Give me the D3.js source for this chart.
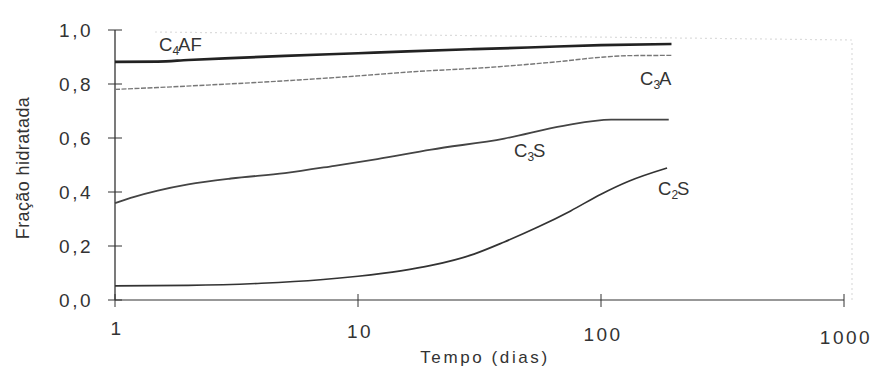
<!DOCTYPE html>
<html>
<head>
<meta charset="utf-8">
<script src="https://cdn.jsdelivr.net/npm/d3@7"></script>
<style>
  html, body { margin: 0; padding: 0; background: #fff; }
  svg { display: block; }
  text { font-family: "Liberation Sans", Arial, sans-serif; fill: #333; }
</style>
</head>
<body>
<svg id="chart" width="874" height="376"></svg>
<script>
// ---- data ----
const days_C4AF = [1, 1.5, 2, 3, 5, 10, 16, 30, 50, 100, 195];
const vals_C4AF = [0.882, 0.883, 0.889, 0.896, 0.904, 0.914, 0.921, 0.929, 0.935, 0.944, 0.948];

const days_C3A = [1, 1.5, 2.4, 5.7, 10, 16, 38, 67, 100, 130, 195];
const vals_C3A = [0.780, 0.787, 0.796, 0.815, 0.830, 0.844, 0.864, 0.883, 0.899, 0.905, 0.906];

const days_C3S = [1, 1.2, 1.5, 2, 3, 5, 8, 12, 20, 40, 70, 110, 190];
const vals_C3S = [0.359, 0.382, 0.405, 0.428, 0.450, 0.470, 0.497, 0.522, 0.557, 0.598, 0.645, 0.668, 0.668];

const days_C2S = [1, 2, 4, 7, 10, 15, 20, 30, 40, 55, 75, 100, 130, 187];
const vals_C2S = [0.052, 0.054, 0.062, 0.075, 0.088, 0.108, 0.128, 0.170, 0.215, 0.270, 0.330, 0.392, 0.440, 0.489];

const xTicks = [1, 10, 100, 1000];
const yTicks = [0, 0.2, 0.4, 0.6, 0.8, 1.0];

const seriesNames = ["C4AF", "C3A", "C3S", "C2S"];
// ---------------------------------------

const svg = d3.select("#chart");
const x = d3.scaleLog().domain([1, 1000]).range([115, 844]);
const y = d3.scaleLinear().domain([0, 1]).range([300, 30]);
const fmt = d => d3.format(".1f")(d).replace(".", ",");

// faint dotted frame (top/right)
svg.append("path")
  .attr("d", `M${x(1)+40},${y(1)+2} L${x(1000)+8},${y(1)+10} L${x(1000)+8},${y(0)}`)
  .attr("fill", "none").attr("stroke", "#dcdcdc").attr("stroke-width", 1.2)
  .attr("stroke-dasharray", "2,3");

// y axis
const yAxis = svg.append("g").attr("transform", `translate(${x(1)},0)`);
yAxis.append("line").attr("y1", y(1)).attr("y2", y(0)).attr("stroke", "#333").attr("stroke-width", 1.3);
yAxis.selectAll("line.tick").data(yTicks).join("line")
  .attr("class", "tick").attr("x1", -7).attr("x2", 7)
  .attr("y1", d => y(d)).attr("y2", d => y(d)).attr("stroke", "#333").attr("stroke-width", 1);
yAxis.selectAll("text").data(yTicks).join("text")
  .attr("x", -22).attr("y", d => y(d) + 7)
  .attr("text-anchor", "end").attr("font-size", 19).attr("letter-spacing", 2.5)
  .text(fmt);

// x axis
const xAxis = svg.append("g").attr("transform", `translate(0,${y(0)})`);
xAxis.append("line").attr("x1", x(1)).attr("x2", x(1000)).attr("stroke", "#333").attr("stroke-width", 1.2);
xAxis.selectAll("line.tick").data(xTicks).join("line")
  .attr("class", "tick").attr("x1", d => x(d)).attr("x2", d => x(d))
  .attr("y1", -6).attr("y2", 7).attr("stroke", "#333").attr("stroke-width", 1);
xAxis.selectAll("text").data(xTicks).join("text")
  .attr("x", d => x(d) + 2).attr("y", (d, i) => 35 + i * 3)
  .attr("text-anchor", "middle").attr("font-size", 19).attr("letter-spacing", 2.5)
  .text(d => d);

// axis titles
svg.append("text")
  .attr("transform", `translate(29,${168}) rotate(-90)`)
  .attr("text-anchor", "middle").attr("font-size", 18).attr("letter-spacing", 0.4)
  .text("Fração hidratada");
svg.append("text")
  .attr("x", 485).attr("y", 363)
  .attr("text-anchor", "middle").attr("font-size", 17).attr("letter-spacing", 2.6)
  .text("Tempo (dias)");

// lines
const line = d3.line().x(d => x(d[0])).y(d => y(d[1])).curve(d3.curveMonotoneX);
const zip = (a, b) => a.map((v, i) => [v, b[i]]);
const series = [
  { name: "C4AF", data: zip(days_C4AF, vals_C4AF), color: "#222", width: 2.6, dash: null },
  { name: "C3A",  data: zip(days_C3A, vals_C3A),  color: "#777", width: 1.4, dash: "5,1.5" },
  { name: "C3S",  data: zip(days_C3S, vals_C3S),  color: "#444", width: 1.8, dash: null },
  { name: "C2S",  data: zip(days_C2S, vals_C2S),  color: "#333", width: 1.7, dash: null }
];
svg.selectAll("path.series").data(series).join("path")
  .attr("class", "series")
  .attr("d", d => line(d.data))
  .attr("fill", "none")
  .attr("stroke", d => d.color)
  .attr("stroke-width", d => d.width)
  .attr("stroke-dasharray", d => d.dash);

// series labels with subscripts
const labels = [
  { parts: ["C", "4", "AF"], x: 159, y: 51 },
  { parts: ["C", "3", "A"], x: 640, y: 85 },
  { parts: ["C", "3", "S"], x: 514, y: 157 },
  { parts: ["C", "2", "S"], x: 658, y: 195 }
];
labels.forEach(l => {
  const t = svg.append("text").attr("x", l.x).attr("y", l.y).attr("font-size", 18.5);
  t.append("tspan").text(l.parts[0]);
  t.append("tspan").attr("font-size", 12).attr("dy", 4).text(l.parts[1]);
  t.append("tspan").attr("dy", -4).attr("dx", -1).text(l.parts[2]);
});
</script>
</body>
</html>
